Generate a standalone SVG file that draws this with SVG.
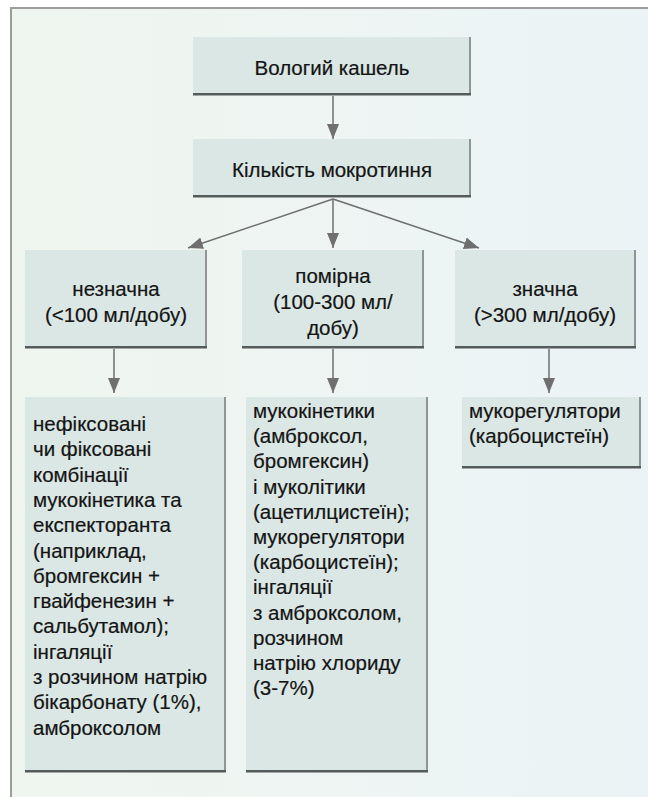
<svg xmlns="http://www.w3.org/2000/svg" width="648" height="797" viewBox="0 0 648 797">
<defs>
<linearGradient id="bg" x1="0" y1="0" x2="1" y2="0">
<stop offset="0" stop-color="#eff6ef"/>
<stop offset="1" stop-color="#ecf3f6"/>
</linearGradient>
<marker id="ah" markerUnits="userSpaceOnUse" markerWidth="15" markerHeight="12" refX="15" refY="6" orient="auto">
<path d="M0,0 L15,6 L0,12 Z" fill="#6f6f6f"/>
</marker>
</defs>
<style>
.box{fill:#dbe7e4}
.sh{fill:#555a5a}
.sr{fill:#8e9694}
.t{font-family:"Liberation Sans",Arial,sans-serif;font-size:20.5px;fill:#141414;stroke:#141414;stroke-width:0.2}
.c{text-anchor:middle}
.ln{stroke:#6f6f6f;stroke-width:1.5;fill:none;marker-end:url(#ah)}
</style>
<rect x="0" y="0" width="648" height="797" fill="#ffffff"/>
<rect x="11" y="8" width="637" height="789" fill="url(#bg)"/>
<path d="M11,797 L11,8 L648,8" fill="none" stroke="#9c9c9c" stroke-width="2"/>

<g id="connectors">
<line class="ln" x1="333" y1="96" x2="333" y2="139"/>
<line class="ln" x1="333" y1="199" x2="188" y2="248"/>
<line class="ln" x1="333" y1="199" x2="333" y2="248"/>
<line class="ln" x1="333" y1="199" x2="479" y2="248"/>
<line class="ln" x1="114" y1="349" x2="114" y2="393"/>
<line class="ln" x1="333" y1="349" x2="333" y2="393"/>
<line class="ln" x1="549" y1="349" x2="549" y2="393"/>
</g>

<g id="n-cough">
<rect class="box" x="193" y="37" width="278" height="56"/>
<rect class="sr" x="469" y="37" width="2" height="56"/>
<rect class="sh" x="193" y="93" width="278" height="2.5"/>
<text class="t c" x="332" y="75">Вологий кашель</text>
</g>

<g id="n-amount">
<rect class="box" x="193" y="139" width="278" height="56"/>
<rect class="sr" x="469" y="139" width="2" height="56"/>
<rect class="sh" x="193" y="195" width="278" height="2.5"/>
<text class="t c" x="332" y="177">Кількість мокротиння</text>
</g>

<g id="n-low">
<rect class="box" x="25" y="250" width="182" height="96"/>
<rect class="sr" x="205" y="250" width="2" height="96"/>
<rect class="sh" x="25" y="346" width="182" height="2.5"/>
<text class="t c" x="116" y="296">незначна</text>
<text class="t c" x="116" y="322">(&lt;100 мл/добу)</text>
</g>

<g id="n-mid">
<rect class="box" x="242" y="250" width="182" height="96"/>
<rect class="sr" x="422" y="250" width="2" height="96"/>
<rect class="sh" x="242" y="346" width="182" height="2.5"/>
<text class="t c" x="333" y="283">помірна</text>
<text class="t c" x="333" y="309">(100-300 мл/</text>
<text class="t c" x="333" y="335">добу)</text>
</g>

<g id="n-high">
<rect class="box" x="455" y="250" width="181" height="96"/>
<rect class="sr" x="634" y="250" width="2" height="96"/>
<rect class="sh" x="455" y="346" width="181" height="2.5"/>
<text class="t c" x="545" y="296">значна</text>
<text class="t c" x="545" y="322">(&gt;300 мл/добу)</text>
</g>

<g id="n-low-tx">
<rect class="box" x="25" y="397" width="201" height="373"/>
<rect class="sr" x="224" y="397" width="2" height="373"/>
<rect class="sh" x="25" y="770" width="201" height="2.5"/>
<text class="t" x="33" y="431">нефіксовані</text>
<text class="t" x="33" y="456.3">чи фіксовані</text>
<text class="t" x="33" y="481.6">комбінації</text>
<text class="t" x="33" y="506.9">мукокінетика та</text>
<text class="t" x="33" y="532.2">експекторанта</text>
<text class="t" x="33" y="557.5">(наприклад,</text>
<text class="t" x="33" y="582.8">бромгексин +</text>
<text class="t" x="33" y="608.1">гвайфенезин +</text>
<text class="t" x="33" y="633.4">сальбутамол);</text>
<text class="t" x="33" y="658.7">інгаляції</text>
<text class="t" x="33" y="684">з розчином натрію</text>
<text class="t" x="33" y="709.3">бікарбонату (1%),</text>
<text class="t" x="33" y="734.6">амброксолом</text>
</g>

<g id="n-mid-tx">
<rect class="box" x="246" y="397" width="182" height="373"/>
<rect class="sr" x="426" y="397" width="2" height="373"/>
<rect class="sh" x="246" y="770" width="182" height="2.5"/>
<text class="t" x="253" y="418">мукокінетики</text>
<text class="t" x="253" y="443.2">(амброксол,</text>
<text class="t" x="253" y="468.4">бромгексин)</text>
<text class="t" x="253" y="493.6">і муколітики</text>
<text class="t" x="253" y="518.8">(ацетилцистеїн);</text>
<text class="t" x="253" y="544">мукорегулятори</text>
<text class="t" x="253" y="569.2">(карбоцистеїн);</text>
<text class="t" x="253" y="594.4">інгаляції</text>
<text class="t" x="253" y="619.6">з амброксолом,</text>
<text class="t" x="253" y="644.8">розчином</text>
<text class="t" x="253" y="670">натрію хлориду</text>
<text class="t" x="253" y="695.2">(3-7%)</text>
</g>

<g id="n-high-tx">
<rect class="box" x="462" y="397" width="179" height="69"/>
<rect class="sr" x="639" y="397" width="2" height="69"/>
<rect class="sh" x="462" y="466" width="179" height="2.5"/>
<text class="t" x="469" y="418">мукорегулятори</text>
<text class="t" x="469" y="443.2">(карбоцистеїн)</text>
</g>
</svg>
